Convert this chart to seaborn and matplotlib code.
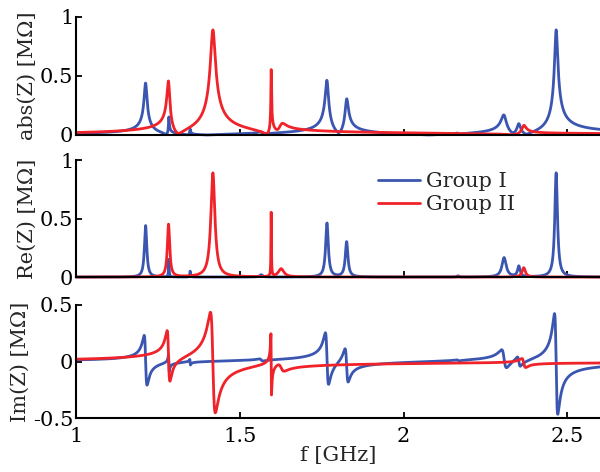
import numpy as np
import pandas as pd
import matplotlib
matplotlib.use("Agg")
import matplotlib.pyplot as plt
import seaborn as sns

# -------------------------------
# resonance modes (f_r [GHz], R_s [MOhm], Q)
# -------------------------------
g1_fr = [1.212, 1.283, 1.348, 1.565, 1.766, 1.826, 2.166, 2.307, 2.352, 2.466]
g1_rs = [0.44, 0.15, 0.05, 0.02, 0.46, 0.30, 0.01, 0.165, 0.09, 0.89]
g1_q = [140, 600, 600, 150, 180, 190, 300, 150, 250, 250]

g2_fr = [1.282, 1.4175, 1.5956, 1.626, 2.367]
g2_rs = [0.45, 0.89, 0.545, 0.07, 0.08]
g2_q = [150, 95, 900, 80, 200]

group_names = ["Group I", "Group II"]
colors = ["#3a56b0", "#f0232a"]

f = np.linspace(1.0, 2.6, 8001)


def impedance(fr_list, rs_list, q_list):
    z = np.zeros_like(f, dtype=complex)
    for fr, rs, q in zip(fr_list, rs_list, q_list):
        z += rs / (1 + 1j * q * (f / fr - fr / f))
    return z


z1 = impedance(g1_fr, g1_rs, g1_q)
z2 = impedance(g2_fr, g2_rs, g2_q)

frames = []
for name, z in zip(group_names, [z1, z2]):
    frames.append(pd.DataFrame({"f": f, "abs": np.abs(z), "re": z.real,
                                "im": z.imag, "group": name}))
df = pd.concat(frames, ignore_index=True)

# -------------------------------
# plotting
# -------------------------------
sns.set_style("ticks")
plt.rcParams["font.family"] = ["DejaVu Serif"]
plt.rcParams["axes.unicode_minus"] = False
plt.rcParams["xtick.direction"] = "in"
plt.rcParams["ytick.direction"] = "in"

fig = plt.figure(figsize=(6, 4.72), dpi=100)
boxes = [(0.714, 0.964), (0.413, 0.661), (0.114, 0.354)]
cols = ["abs", "re", "im"]
ylabels = ["abs(Z) [MΩ]", "Re(Z) [MΩ]", "Im(Z) [MΩ]"]
ylims = [(0, 1), (0, 1), (-0.5, 0.5)]
yticks = [[0, 0.5, 1], [0, 0.5, 1], [-0.5, 0, 0.5]]
yticklabels = [["0", "0.5", "1"], ["0", "0.5", "1"], ["-0.5", "0", "0.5"]]

axes = []
for i, (b, t) in enumerate(boxes):
    ax = fig.add_axes([0.127, b, 0.873, t - b])
    sns.lineplot(data=df, x="f", y=cols[i], hue="group", palette=colors,
                 linewidth=2.0, ax=ax, legend=(i == 1), clip_on=False,
                 estimator=None, sort=False)
    ax.set_xlim(1, 2.6)
    ax.set_ylim(*ylims[i])
    ax.set_yticks(yticks[i])
    ax.set_yticklabels(yticklabels[i])
    ax.set_xticks([1, 1.5, 2, 2.5])
    if i < 2:
        ax.set_xticklabels([])
        ax.set_xlabel("")
    else:
        ax.set_xticklabels(["1", "1.5", "2", "2.5"])
        ax.set_xlabel("f [GHz]", fontsize=15, labelpad=0)
    ax.set_ylabel(ylabels[i], fontsize=15, labelpad=2)
    ax.tick_params(axis="y", labelsize=15, length=4, width=1.3, pad=2, colors="black")
    ax.tick_params(axis="x", labelsize=15, length=4, width=1.3, pad=6, colors="black")
    for s in ["top", "right"]:
        ax.spines[s].set_visible(False)
    for s in ["left", "bottom"]:
        ax.spines[s].set_linewidth(1.5)
        ax.spines[s].set_color("black")
    axes.append(ax)

leg = axes[1].legend(loc="upper left", bbox_to_anchor=(0.56, 0.97), frameon=False,
                     fontsize=15, handlelength=2.0, handletextpad=0.3,
                     labelspacing=0.2, borderaxespad=0)
for line in leg.get_lines():
    line.set_linewidth(2.0)

fig.savefig("out.png", dpi=100)
